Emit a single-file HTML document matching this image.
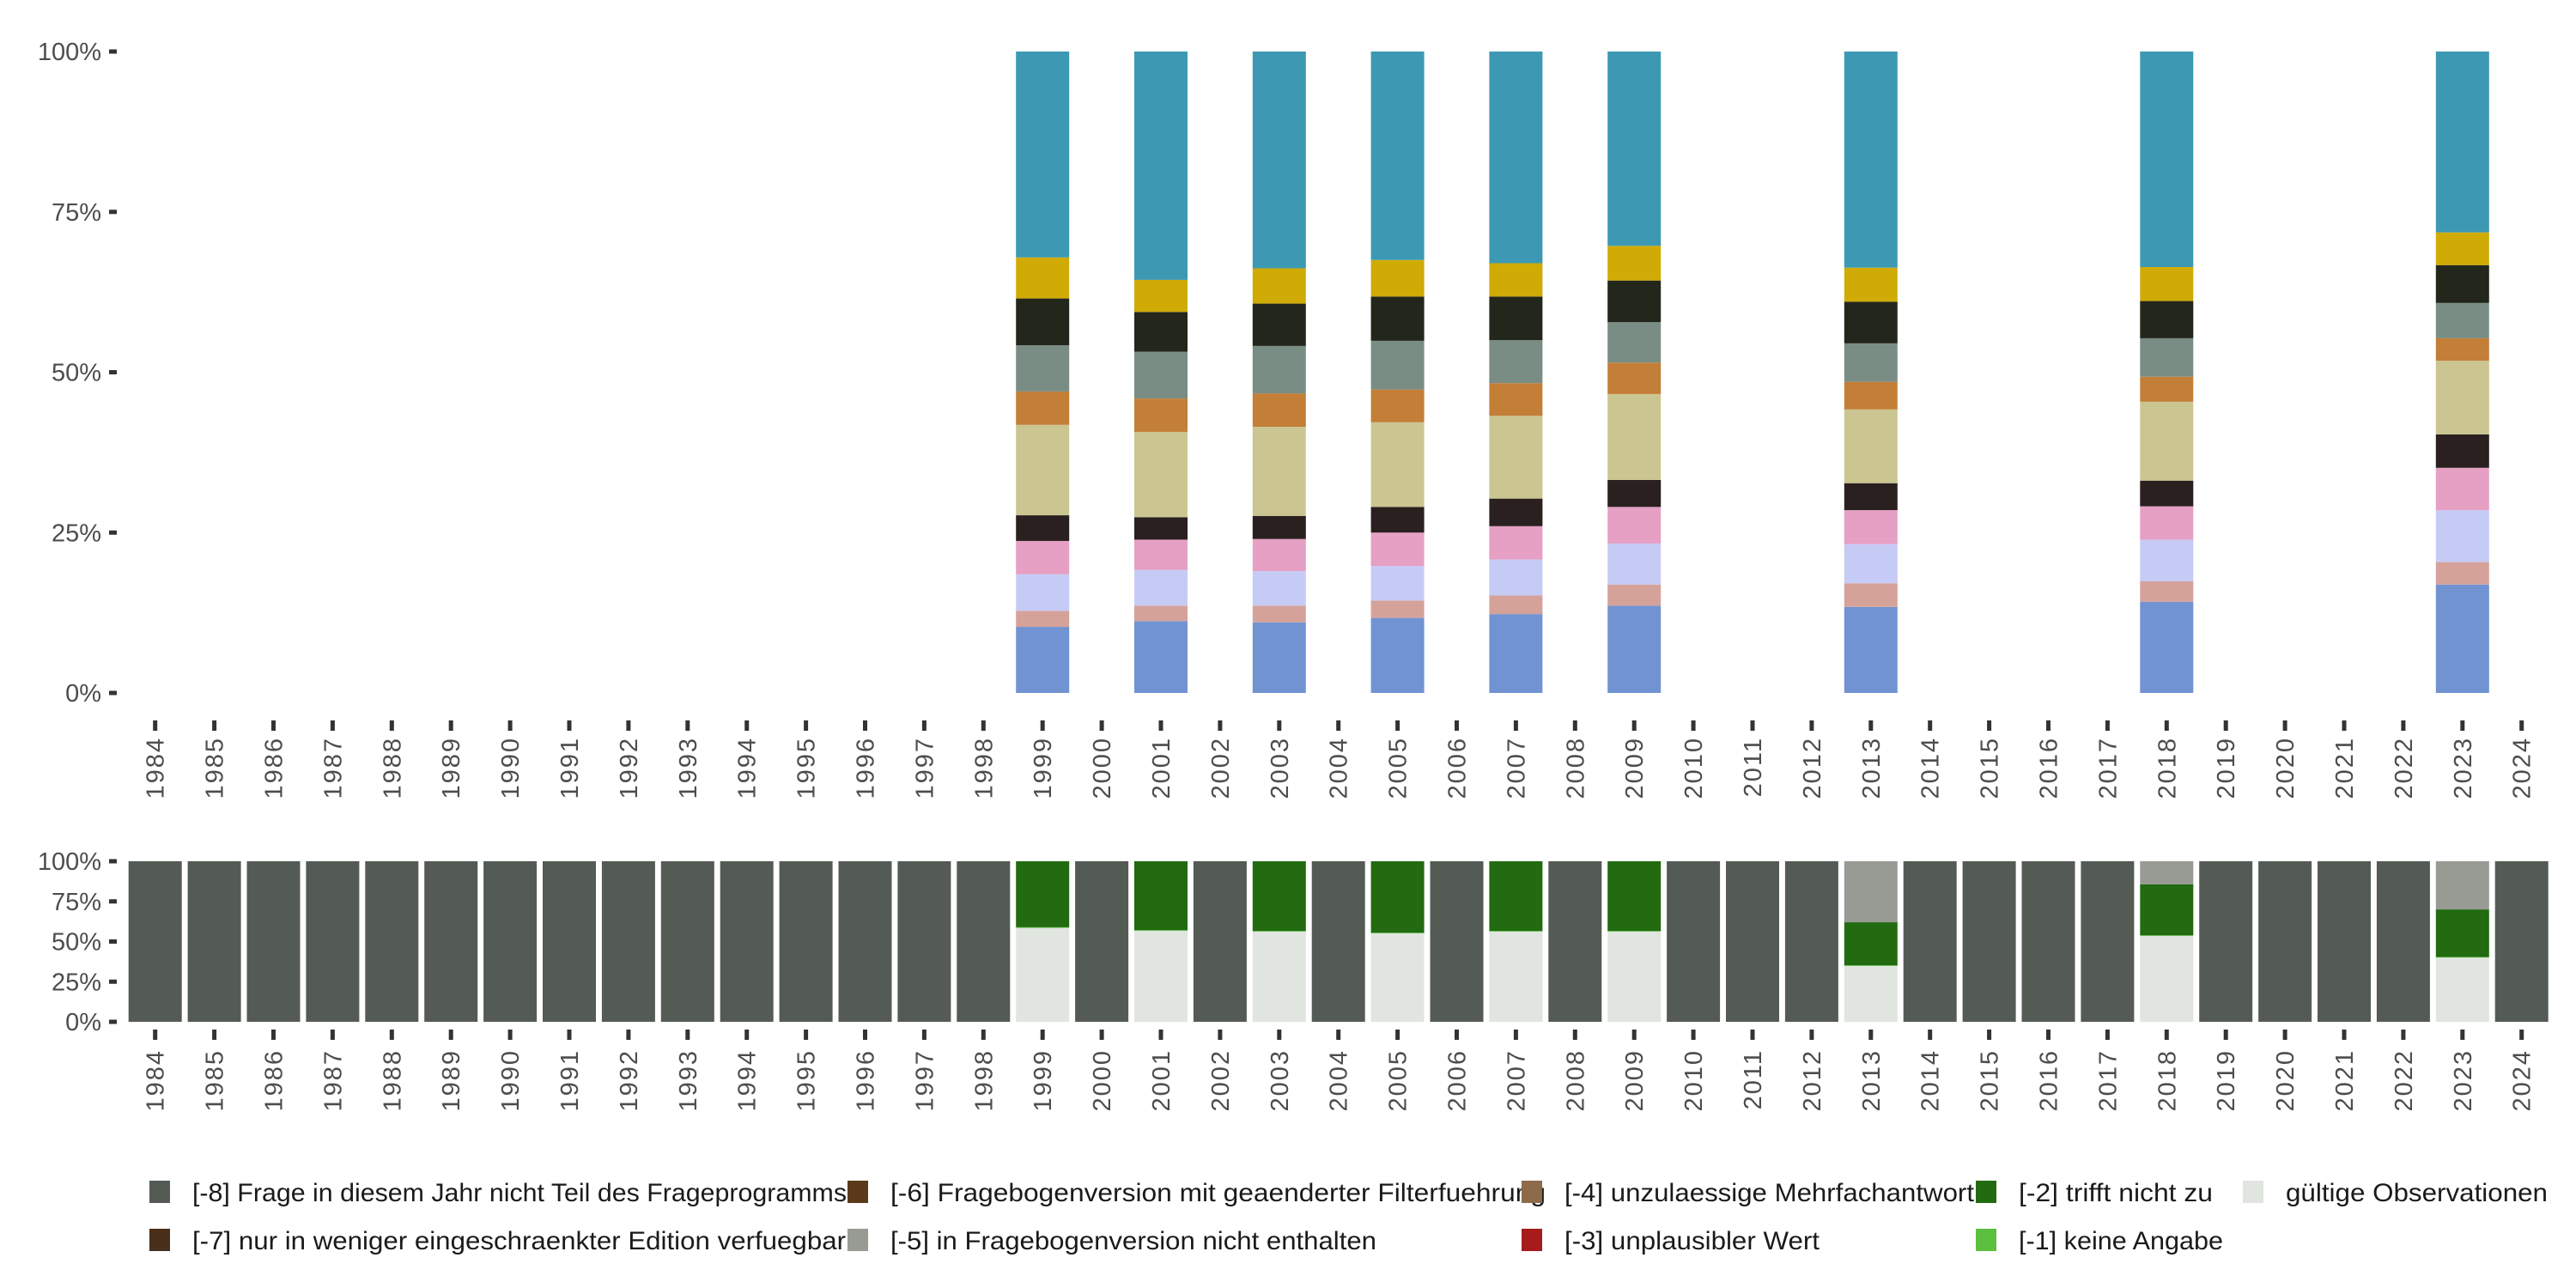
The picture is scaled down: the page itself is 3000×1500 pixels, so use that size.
<!DOCTYPE html>
<html><head><meta charset="utf-8">
<style>
html,body{margin:0;padding:0;background:#fff;}
svg{display:block;font-family:"Liberation Sans",sans-serif;}
</style></head>
<body>
<svg id="chart" width="3000" height="1500" viewBox="0 0 3000 1500" xmlns="http://www.w3.org/2000/svg">
<g id="top"></g>
<g id="bottom"></g>
<g id="legend"></g>
</svg>
<script>
// ---- data ----
const allYears = [];
for (let y = 1984; y <= 2024; y++) allYears.push(y);
const topYears = [1999, 2001, 2003, 2005, 2007, 2009, 2013, 2018, 2023];
const topColors = ["#7293d2","#d5a29a","#c6cbf5","#e5a0c4","#2a201f","#cbc591","#c37e38","#7a8d84","#23271b","#d0ab06","#3d99b3"];
const s0 = [.103,.112,.110,.117,.123,.136,.134,.142,.169];
const s1 = [.025,.024,.026,.027,.029,.033,.037,.032,.035];
const s2 = [.057,.056,.054,.054,.056,.064,.061,.065,.081];
const s3 = [.052,.047,.050,.052,.052,.057,.053,.052,.066];
const s4 = [.040,.035,.036,.040,.043,.042,.042,.040,.052];
const s5 = [.141,.133,.139,.132,.129,.134,.115,.123,.115];
const s6 = [.052,.052,.052,.051,.051,.049,.043,.039,.035];
const s7 = [.072,.073,.074,.076,.067,.063,.060,.060,.055];
const s8 = [.073,.062,.066,.069,.068,.065,.065,.058,.059];
const s9 = [.064,.050,.055,.057,.052,.054,.053,.053,.051];
const s10 = [.321,.356,.338,.325,.330,.303,.337,.336,.282];
const topSeries = [s0,s1,s2,s3,s4,s5,s6,s7,s8,s9,s10];

// bottom panel: shares for survey years (others are fully [-8])
const validShare = [.585,.567,.562,.551,.562,.562,.348,.535,.400];
const missing1Share = [.004,.004,.004,.004,.004,.004,.004,.004,.004];
const missing2Share = [.411,.429,.434,.445,.434,.434,.268,.317,.296];
const missing5Share = [0,0,0,0,0,0,.380,.144,.300];
const bottomColors = {valid:"#e1e5e0", m1:"#5bbf3f", m2:"#226b10", m5:"#989b94", m8:"#545b54"};

const yTicks = [0, 0.25, 0.5, 0.75, 1];
const yTickLabels = ["0%","25%","50%","75%","100%"];

const legendLabels = ["[-8] Frage in diesem Jahr nicht Teil des Frageprogramms","[-7] nur in weniger eingeschraenkter Edition verfuegbar","[-6] Fragebogenversion mit geaenderter Filterfuehrung","[-5] in Fragebogenversion nicht enthalten","[-4] unzulaessige Mehrfachantwort","[-3] unplausibler Wert","[-2] trifft nicht zu","[-1] keine Angabe","gültige Observationen"];
const legendColors = ["#545b54","#4a2f1a","#5a3a1a","#989b94","#8c6a4a","#a51c1a","#226b10","#5bbf3f","#e1e5e0"];

// ---- layout ----
const NS = "http://www.w3.org/2000/svg";
const x0 = 180.7, step = 68.9, barW = 62;
function xCenter(year){ return x0 + (year - 1984) * step; }
const topY = {top:60, bottom:807};
const botY = {top:1003, bottom:1190};
function yScale(p, v){ return p.bottom - v * (p.bottom - p.top); }
function mk(tag, attrs, parent){
  const e = document.createElementNS(NS, tag);
  for (const k in attrs) e.setAttribute(k, attrs[k]);
  parent.appendChild(e); return e;
}

function axes(g, p, tickY, labelY, prefix){
  yTicks.forEach((t,i)=>{
    const y = yScale(p, t);
    const tk = mk("rect",{x:127,y:y-2.5,width:9,height:5,fill:"#333"},g);
    
    
    const tx = mk("text",{x:118,y:y+10,"text-anchor":"end","font-size":29,fill:"#4d4d4d"},g);
    tx.textContent = yTickLabels[i];
    
    
  });
  allYears.forEach(yr=>{
    const cx = xCenter(yr);
    const tk = mk("rect",{x:cx-2.5,y:tickY,width:5,height:12,fill:"#333"},g);
    
    
    const tx = mk("text",{x:0,y:0,"text-anchor":"end","font-size":29,fill:"#4d4d4d","letter-spacing":2,
      transform:`translate(${cx+10},${labelY}) rotate(-90)`},g);
    tx.textContent = yr;
    
    
  });
}

// top panel
const gTop = document.getElementById("top");
topYears.forEach((yr,i)=>{
  let total = 0; topSeries.forEach(s=> total += s[i]);
  let cum = 0;
  topSeries.forEach((s,k)=>{
    const v = s[i]/total;
    const y1 = yScale(topY, cum), y2 = yScale(topY, cum+v);
    const r = mk("rect",{x:xCenter(yr)-barW/2,y:y2,width:barW,height:y1-y2,fill:topColors[k]},gTop);
    
    
    cum += v;
  });
});
axes(gTop, topY, 839, 858, "top");

// bottom panel
const gBot = document.getElementById("bottom");
allYears.forEach(yr=>{
  const i = topYears.indexOf(yr);
  let segs;
  if (i < 0) segs = [[1, bottomColors.m8]];
  else segs = [[validShare[i],bottomColors.valid],[missing1Share[i],bottomColors.m1],[missing2Share[i],bottomColors.m2],[missing5Share[i],bottomColors.m5]];
  let total = 0; segs.forEach(s=> total += s[0]);
  let cum = 0;
  segs.forEach(s=>{
    const v = s[0]/total;
    if (v <= 0) return;
    const y1 = yScale(botY, cum), y2 = yScale(botY, cum+v);
    const r = mk("rect",{x:xCenter(yr)-barW/2,y:y2,width:barW,height:y1-y2,fill:s[1]},gBot);
    
    
    cum += v;
  });
});
axes(gBot, botY, 1199, 1222, "bottom");

// legend
const gLeg = document.getElementById("legend");
const colX = [174, 987, 1772, 2301, 2612];
const textEnd = [986,985,1800,1603,2299,2119,2577,2589,2967];
const rowY = [1375, 1431];
legendLabels.forEach((lab,i)=>{
  const col = Math.floor(i/2), row = i%2;
  const sx = colX[col], sy = rowY[row];
  const sw = mk("rect",{x:sx,y:sy,width:24,height:26,fill:legendColors[i]},gLeg);
  
  
  const tx = mk("text",{x:sx+50,y:sy+24,"font-size":30,fill:"#1a1a1a",textLength:textEnd[i]-(sx+50),lengthAdjust:"spacingAndGlyphs"},gLeg);
  tx.textContent = lab;
  
  
});
</script>
</body></html>
